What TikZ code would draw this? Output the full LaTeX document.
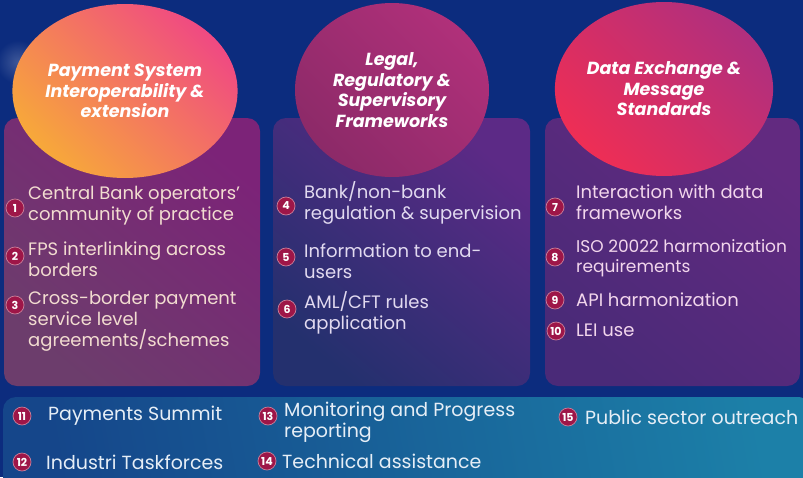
\documentclass[tikz,border=0pt]{standalone}
\usepackage{fontspec}
\setmainfont{Poppins}
\newfontfamily\titlefont{Poppins}
\usetikzlibrary{shapes.geometric}
\definecolor{bg}{HTML}{0C2C7E}
\definecolor{lpA}{HTML}{6C3D6C}
\definecolor{lpB}{HTML}{7C2378}
\definecolor{mpA}{HTML}{24306E}
\definecolor{mpB}{HTML}{5C2A86}
\definecolor{rpA}{HTML}{4A2A78}
\definecolor{rpB}{HTML}{622A80}
\definecolor{barA}{HTML}{15468A}
\definecolor{barB}{HTML}{1C80A8}
\definecolor{c1A}{HTML}{F7A83A}
\definecolor{c1B}{HTML}{F04A82}
\definecolor{c2A}{HTML}{8C2A68}
\definecolor{c2B}{HTML}{B0307A}
\definecolor{c3A}{HTML}{EE2E55}
\definecolor{c3B}{HTML}{B02F7E}
\definecolor{badgecol}{HTML}{9E1648}
\definecolor{ltxt}{HTML}{F2DCD0}
\definecolor{mtxt}{HTML}{E2DAF0}
\definecolor{rtxt}{HTML}{F2D6EC}
\definecolor{btxt}{HTML}{E6EEF6}
\begin{document}
\begin{tikzpicture}[x=1pt,y=-1pt,
  panel/.style={rounded corners=13pt},
  topic/.style={ellipse, minimum width=194pt, minimum height=174pt, inner sep=0pt, align=center, text=white,
    font=\titlefont\bfseries\itshape\fontsize{17.5}{20.5}\selectfont},
  badge/.style={circle, fill=badgecol, draw=badgecol!55!white, line width=0.7pt, text=white, inner sep=0pt, minimum size=18pt,
    font=\titlefont\bfseries\fontsize{11}{11}\selectfont},
  item/.style={anchor=west, align=left, inner sep=0pt, font=\fontsize{18}{21}\selectfont},
  litem/.style={item, text=ltxt},
  mitem/.style={item, text=mtxt},
  ritem/.style={item, text=rtxt},
  bitem/.style={item, text=btxt, font=\fontsize{19}{21}\selectfont}]
\useasboundingbox (0,0) rectangle (803,477);
\fill[bg] (0,0) rectangle (803,477);
\shade[inner color=white!35!bg, outer color=bg, opacity=0.6] (18,62) circle (22);
% panels
\shade[panel, top color=lpB, bottom color=lpA, shading angle=-40] (4,118) rectangle (260,386);
\shade[panel, top color=mpB, bottom color=mpA, shading angle=-40] (273,118) rectangle (530,386);
\shade[panel, top color=rpB, bottom color=rpA, shading angle=-40] (545,118) rectangle (800,386);
\shade[panel, top color=barB, bottom color=barA, shading angle=-80] (3,397) rectangle (812,490);
% topic circles
\node[topic, top color=c1B, bottom color=c1A, shading angle=-45] (c1) at (125,91) {Payment System\\Interoperability \&\\extension};
\node[topic, top color=c2B, bottom color=c2A, shading angle=-45] (c2) at (392,90) {Legal,\\Regulatory \&\\Supervisory\\Frameworks};
\node[topic, top color=c3B, bottom color=c3A, shading angle=-45] (c3) at (664,89) {Data Exchange \&\\Message\\Standards};
% left items
\node[badge] (b1) at (15,208) {1};
\node[litem] (t1) at (28,205.5) {Central Bank operators'\\community of practice};
\node[badge] (b2) at (15,256) {2};
\node[litem] (t2) at (28,259) {FPS interlinking across\\borders};
\node[badge] (b3) at (15,305) {3};
\node[litem] (t3) at (28,321) {Cross-border payment\\service level\\agreements/schemes};
% middle items
\node[badge] (b4) at (286,206) {4};
\node[mitem] (t4) at (304,203) {Bank/non-bank\\regulation \& supervision};
\node[badge] (b5) at (286,257) {5};
\node[mitem] (t5) at (304,261) {Information to end-\\users};
\node[badge] (b6) at (287,309) {6};
\node[mitem] (t6) at (304,313) {AML/CFT rules\\application};
% right items
\node[badge] (b7) at (555,207) {7};
\node[ritem] (t7) at (576,202.5) {Interaction with data\\frameworks};
\node[badge] (b8) at (555,257) {8};
\node[ritem, font=\fontsize{17}{20}\selectfont] (t8) at (576,258) {ISO 20022 harmonization\\requirements};
\node[badge] (b9) at (555,300) {9};
\node[ritem] (t9) at (576,300) {API harmonization};
\node[badge] (b10) at (556,331) {10};
\node[ritem] (t10) at (576,330) {LEI use};
% bottom bar items
\node[badge] (b11) at (22,416) {11};
\node[bitem] (t11) at (48,416) {Payments Summit};
\node[badge] (b12) at (22,462) {12};
\node[bitem] (t12) at (46,462) {Industri Taskforces};
\node[badge] (b13) at (268,416) {13};
\node[bitem] (t13) at (284,422.5) {Monitoring and Progress\\reporting};
\node[badge] (b14) at (267,461) {14};
\node[bitem] (t14) at (282,461) {Technical assistance};
\node[badge] (b15) at (568,417) {15};
\node[bitem] (t15) at (585,417) {Public sector outreach};
\end{tikzpicture}
\end{document}
